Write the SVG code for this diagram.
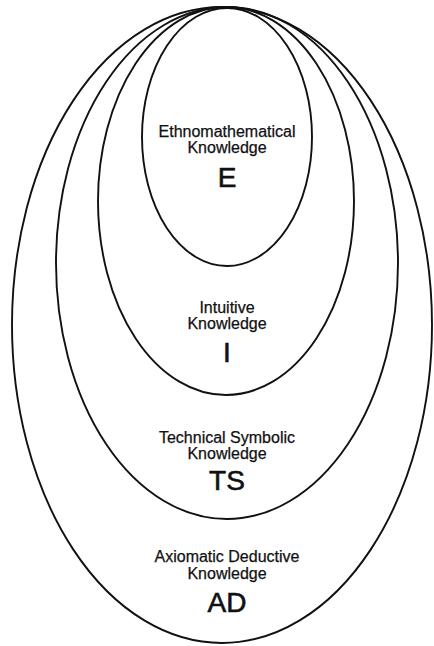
<svg xmlns="http://www.w3.org/2000/svg" width="434" height="646" viewBox="0 0 434 646">
<style>
.ring{fill:none;stroke:#111;stroke-width:1.9}
.lbl{font-family:"Liberation Sans",Arial,sans-serif;font-size:16px;fill:#111;stroke:#111;stroke-width:0.25;text-anchor:middle}
.big{font-family:"Liberation Sans",Arial,sans-serif;font-size:28px;fill:#111;stroke:#111;stroke-width:0.6;text-anchor:middle}
</style>
<rect width="434" height="646" fill="#fff"/>
<g id="AD">
<ellipse class="ring" cx="222" cy="325" rx="210" ry="318"/>
<text class="lbl" x="227" y="562">Axiomatic Deductive</text>
<text class="lbl" x="227" y="579">Knowledge</text>
<text class="big" x="227" y="612">AD</text>
</g>
<g id="TS">
<ellipse class="ring" cx="227" cy="263" rx="171" ry="256"/>
<text class="lbl" x="227" y="443">Technical Symbolic</text>
<text class="lbl" x="227" y="459">Knowledge</text>
<text class="big" x="227" y="490">TS</text>
</g>
<g id="I">
<ellipse class="ring" cx="226" cy="201" rx="128" ry="194"/>
<text class="lbl" x="227" y="313">Intuitive</text>
<text class="lbl" x="227" y="329">Knowledge</text>
<text class="big" x="227" y="362">I</text>
</g>
<g id="E">
<ellipse class="ring" cx="227" cy="137" rx="85" ry="129"/>
<text class="lbl" x="227" y="137">Ethnomathematical</text>
<text class="lbl" x="227" y="153">Knowledge</text>
<text class="big" x="227" y="187">E</text>
</g>
<g id="connectors"></g>
</svg>
